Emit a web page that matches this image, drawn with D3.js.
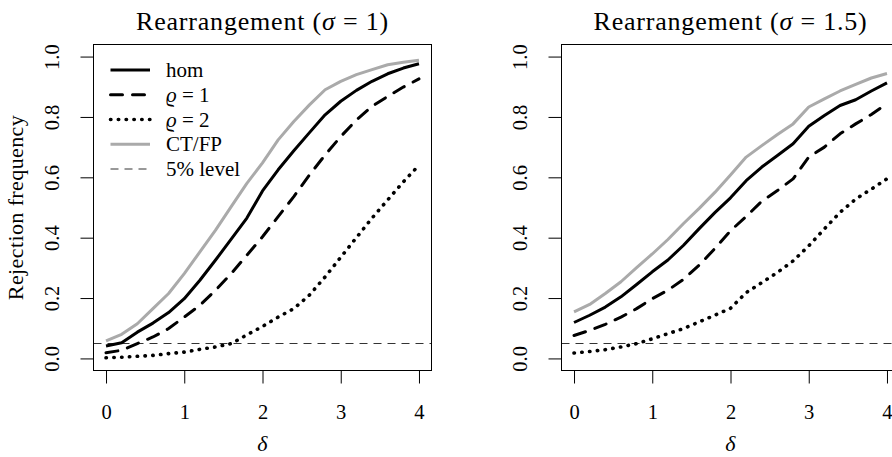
<!DOCTYPE html>
<html>
<head>
<meta charset="utf-8">
<script src="https://cdn.jsdelivr.net/npm/d3@7"></script>
<style>
  body { margin: 0; background: #fff; }
  svg { display: block; }
  svg text { font-family: "Liberation Serif", "DejaVu Serif", serif !important; fill: #000; }
  .axis line { stroke: #000; stroke-width: 1; }
  .title { font-size: 26px; letter-spacing: 0.8px; }
  .lab { font-size: 22px; letter-spacing: 0.4px; }
  .leg { font-size: 21px; }
</style>
</head>
<body>
<div id="chart"></div>
<script>
// delta grid
const delta = [0, 0.2, 0.4, 0.6, 0.8, 1.0, 1.2, 1.4, 1.6, 1.8, 2.0, 2.2, 2.4, 2.6, 2.8, 3.0, 3.2, 3.4, 3.6, 3.8, 4.0];

// sigma = 1
const hom1  = [0.041, 0.052, 0.087, 0.117, 0.152, 0.198, 0.259, 0.326, 0.395, 0.465, 0.555, 0.625, 0.688, 0.748, 0.807, 0.852, 0.888, 0.918, 0.943, 0.962, 0.976];
const rho1a = [0.019, 0.027, 0.049, 0.071, 0.099, 0.137, 0.176, 0.226, 0.281, 0.342, 0.403, 0.470, 0.536, 0.608, 0.674, 0.735, 0.790, 0.835, 0.868, 0.899, 0.926];
const rho2a = [0.002, 0.004, 0.007, 0.010, 0.016, 0.021, 0.030, 0.038, 0.049, 0.078, 0.106, 0.137, 0.165, 0.210, 0.270, 0.335, 0.400, 0.465, 0.525, 0.585, 0.640];
const ctfp1 = [0.058, 0.080, 0.115, 0.165, 0.215, 0.281, 0.353, 0.425, 0.503, 0.580, 0.648, 0.724, 0.785, 0.840, 0.890, 0.918, 0.940, 0.957, 0.973, 0.981, 0.988];

// sigma = 1.5
const hom2  = [0.119, 0.143, 0.170, 0.204, 0.245, 0.287, 0.326, 0.375, 0.430, 0.483, 0.532, 0.589, 0.634, 0.672, 0.711, 0.769, 0.805, 0.838, 0.857, 0.886, 0.913];
const rho1b = [0.076, 0.093, 0.113, 0.137, 0.165, 0.198, 0.226, 0.262, 0.309, 0.364, 0.423, 0.470, 0.521, 0.556, 0.595, 0.667, 0.700, 0.744, 0.777, 0.808, 0.844];
const rho2b = [0.018, 0.023, 0.029, 0.038, 0.049, 0.065, 0.082, 0.099, 0.121, 0.143, 0.166, 0.218, 0.251, 0.285, 0.323, 0.373, 0.429, 0.484, 0.528, 0.561, 0.595];
const ctfp2 = [0.154, 0.179, 0.215, 0.254, 0.301, 0.346, 0.394, 0.447, 0.497, 0.550, 0.608, 0.667, 0.705, 0.742, 0.777, 0.833, 0.860, 0.886, 0.908, 0.929, 0.944];

const xTicks = [0, 1, 2, 3, 4];
const yTicks = [0, 0.2, 0.4, 0.6, 0.8, 1.0];
const level = 0.05;
const legendLabels = ["hom", "ϱ = 1", "ϱ = 2", "CT/FP", "5% level"];

const width = 892;
const height = 457;
const serif = "'Liberation Serif', 'DejaVu Serif', serif";

// line styles: hom, rho=1, rho=2, CT/FP
const styles = [
  { stroke: "#000", width: 3, dash: null, cap: "butt" },
  { stroke: "#000", width: 3, dash: "12,10", cap: "round" },
  { stroke: "#000", width: 3.6, dash: "0.4,7.4", cap: "round" },
  { stroke: "#aaaaaa", width: 3, dash: null, cap: "butt" }
];
const levelStyle = { stroke: "#333", width: 1, dash: "8,6", cap: "butt" };

const svg = d3.select("#chart")
  .append("svg")
  .attr("width", width)
  .attr("height", height)
  .attr("font-family", serif);

svg.append("rect").attr("width", width).attr("height", height).attr("fill", "#fff");

const panels = [
  { left: 93.5, right: 431.5, sigma: "1", series: [hom1, rho1a, rho2a, ctfp1], ylab: true, legend: true },
  { left: 561.5, right: 899.5, sigma: "1.5", series: [hom2, rho1b, rho2b, ctfp2], ylab: false, legend: false }
];

const plotTop = 44.5, plotBottom = 370.5;

function styleLine(sel, s) {
  sel.attr("fill", "none")
    .attr("stroke", s.stroke)
    .attr("stroke-width", s.width)
    .attr("stroke-dasharray", s.dash)
    .attr("stroke-linecap", s.cap)
    .attr("stroke-linejoin", "round");
}

panels.forEach(function(p, i) {
  const xScale = d3.scaleLinear().domain([-0.16, 4.16]).range([p.left, p.right]);
  const yScale = d3.scaleLinear().domain([-0.04, 1.04]).range([plotBottom, plotTop]);

  const clipId = "clip" + i;
  svg.append("clipPath").attr("id", clipId)
    .append("rect")
    .attr("x", p.left).attr("y", plotTop)
    .attr("width", p.right - p.left).attr("height", plotBottom - plotTop);

  const g = svg.append("g").attr("clip-path", `url(#${clipId})`);

  // 5% level
  const ly = Math.round(yScale(level)) + 0.5;
  g.append("line")
    .attr("x1", p.left).attr("x2", p.right)
    .attr("y1", ly).attr("y2", ly)
    .call(styleLine, levelStyle);

  const line = d3.line()
    .x(function(d, j) { return xScale(delta[j]); })
    .y(function(d) { return yScale(d); });

  // draw CT/FP first, then black curves
  [3, 2, 1, 0].forEach(function(k) {
    g.append("path")
      .attr("d", line(p.series[k]))
      .call(styleLine, styles[k]);
  });

  // box
  svg.append("rect")
    .attr("x", p.left).attr("y", plotTop)
    .attr("width", p.right - p.left).attr("height", plotBottom - plotTop)
    .attr("fill", "none").attr("stroke", "#000").attr("stroke-width", 1);

  // x axis
  const xAxis = svg.append("g")
    .attr("class", "axis")
    .attr("transform", `translate(0,${plotBottom})`)
    .call(d3.axisBottom(xScale).tickValues(xTicks).tickSize(13).tickFormat(d3.format("d")));
  xAxis.select(".domain").remove();
  xAxis.selectAll(".tick text").attr("y", 48).attr("dy", 0);

  // y axis
  const yAxis = svg.append("g")
    .attr("class", "axis")
    .attr("transform", `translate(${p.left},0)`)
    .call(d3.axisLeft(yScale).tickValues(yTicks).tickSize(13).tickFormat(d3.format(".1f")));
  yAxis.select(".domain").remove();
  yAxis.selectAll(".tick text")
    .attr("transform", "rotate(-90)")
    .attr("x", 0).attr("y", -35).attr("dy", 0)
    .attr("text-anchor", "middle");
  svg.selectAll(".axis").attr("font-family", serif).attr("font-size", 20.5);

  const cx = (p.left + p.right) / 2;

  // title
  const title = svg.append("text")
    .attr("class", "title")
    .attr("font-family", serif)
    .attr("x", cx).attr("y", 30)
    .attr("text-anchor", "middle");
  title.append("tspan").text("Rearrangement (");
  title.append("tspan").attr("font-style", "italic").text("σ");
  title.append("tspan").text(" = " + p.sigma + ")");

  // x label
  svg.append("text")
    .attr("class", "lab")
    .attr("font-family", serif)
    .attr("x", cx).attr("y", 451)
    .attr("text-anchor", "middle")
    .attr("font-style", "italic")
    .text("δ");

  if (p.ylab) {
    svg.append("text")
      .attr("class", "lab")
      .attr("font-family", serif)
      .attr("transform", `translate(23,${(plotTop + plotBottom) / 2}) rotate(-90)`)
      .attr("text-anchor", "middle")
      .text("Rejection frequency");
  }

  if (p.legend) {
    const rowY = d3.scaleLinear().domain([0, 4]).range([70, 169]);
    const leg = svg.append("g");
    const legStyles = styles.concat([levelStyle]);
    legendLabels.forEach(function(lab, k) {
      leg.append("line")
        .attr("x1", 110.5).attr("x2", 150)
        .attr("y1", rowY(k)).attr("y2", rowY(k))
        .call(styleLine, legStyles[k]);
      const t = leg.append("text")
        .attr("class", "leg")
        .attr("font-family", serif)
        .attr("x", 166).attr("y", rowY(k) + 7);
      if (lab.startsWith("ϱ")) {
        t.append("tspan").attr("font-style", "italic").text("ϱ");
        t.append("tspan").text(lab.slice(1));
      } else {
        t.text(lab);
      }
    });
  }
});
</script>
</body>
</html>
